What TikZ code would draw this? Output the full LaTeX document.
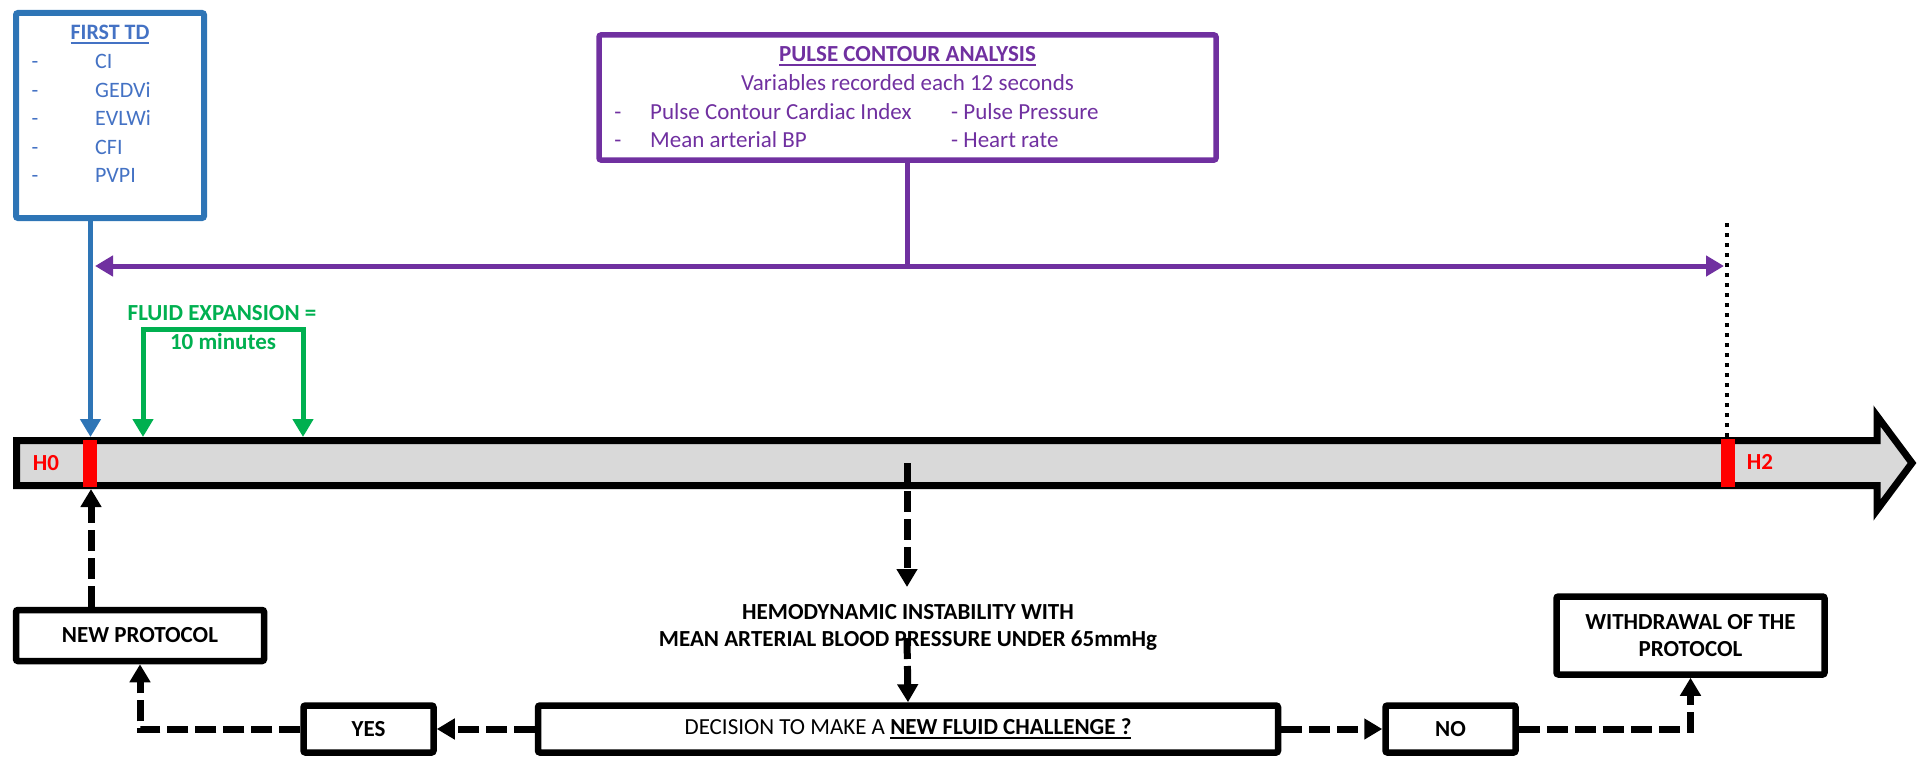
\documentclass[tikz,border=0pt]{standalone}
\usepackage{fontspec}
\setmainfont{Carlito}
\usetikzlibrary{arrows.meta}
\definecolor{tdblue}{HTML}{2E75B6}
\definecolor{tdtext}{HTML}{4472C4}
\definecolor{pcpurple}{HTML}{7030A0}
\definecolor{fegreen}{HTML}{00B050}
\definecolor{bargray}{HTML}{D9D9D9}
\definecolor{mkred}{HTML}{FF0000}
\newsavebox\ulbox
\newcommand{\myul}[1]{\sbox\ulbox{#1}\rlap{\rule[-4pt]{\wd\ulbox}{1.6pt}}\usebox\ulbox}
\begin{document}
\begin{tikzpicture}[x=1pt,y=-1pt,
  bx/.style={draw=black, line width=6.5pt, rounded corners=2pt, fill=white, inner sep=0pt, align=center, font=\fontsize{23}{27}\selectfont\bfseries},
  dline/.style={line width=7pt, dash pattern=on 21pt off 7pt, -{Triangle[width=20pt,length=18pt]}},
  tiptri/.tip={Triangle[width=20pt,length=18pt]},
  lbl/.style={inner sep=0pt, font=\fontsize{23}{27}\selectfont},
  tdl/.style={inner sep=0pt, text=tdtext, font=\fontsize{22}{26}\selectfont},
  pcl/.style={inner sep=0pt, text=pcpurple, font=\fontsize{23}{27}\selectfont},
  grl/.style={inner sep=0pt, text=fegreen, font=\fontsize{23}{27}\selectfont\bfseries},
  hl/.style={inner sep=0pt, text=mkred, font=\fontsize{23}{27}\selectfont\bfseries}]
\useasboundingbox (0,0) rectangle (1919,760);

% timeline bar
\draw[line width=7pt, fill=bargray] (16.5,440.5) -- (1877,440.5) -- (1877,416) -- (1912,463) -- (1877,510) -- (1877,485.5) -- (16.5,485.5) -- cycle;
\node[fill=mkred, minimum width=14pt, minimum height=47pt, inner sep=0pt] (m0) at (90,463.5) {};
\node[fill=mkred, minimum width=14pt, minimum height=48pt, inner sep=0pt] (m2) at (1728,463) {};
\node[hl, anchor=base] (h0) at (46,470) {H0};
\node[hl, anchor=base] (h2) at (1760,469) {H2};

\coordinate (h0top) at (90.5,437);
\coordinate (h0bot) at (91,489);
\coordinate (dtop) at (1727,223);
\coordinate (dbot) at (1727,437);
\coordinate (pl) at (95,266);
\coordinate (pr) at (1724,266);
\coordinate (g1) at (143,437);
\coordinate (g2) at (303,437);
\coordinate (ga) at (143,329);
\coordinate (gb) at (303,329);
\coordinate (mid) at (907,463);
\coordinate (hemotip) at (907,587);
\coordinate (hemostart) at (907,638);

% FIRST TD box
\node[draw=tdblue, line width=6pt, rounded corners=2pt, minimum width=188pt, minimum height=205pt, inner sep=0pt] (ftd) at (110,115.5) {};
\node[tdl, anchor=base, font=\fontsize{22}{26}\selectfont\bfseries] (ftdt) at (110,40) {\myul{FIRST TD}};
\node[tdl, anchor=base] (d1) at (35,69) {-};
\node[tdl, anchor=base] (d2) at (35,97) {-};
\node[tdl, anchor=base] (d3) at (35,125) {-};
\node[tdl, anchor=base] (d4) at (35,154) {-};
\node[tdl, anchor=base] (d5) at (35,182) {-};
\node[tdl, anchor=base west] (i1) at (95,69) {CI};
\node[tdl, anchor=base west] (i2) at (95,97) {GEDVi};
\node[tdl, anchor=base west] (i3) at (95,125) {EVLWi};
\node[tdl, anchor=base west] (i4) at (95,154) {CFI};
\node[tdl, anchor=base west] (i5) at (95,182) {PVPI};
\draw[tdblue, line width=5pt, -{tiptri}] (ftd.south -| h0top) -- (h0top);

% PULSE CONTOUR box
\node[draw=pcpurple, line width=5.5pt, rounded corners=2pt, minimum width=617pt, minimum height=125pt, inner sep=0pt] (pca) at (907.5,97.5) {};
\node[pcl, anchor=base, font=\fontsize{23}{27}\selectfont\bfseries] (pcat) at (907.5,62) {\myul{PULSE CONTOUR ANALYSIS}};
\node[pcl, anchor=base] (pcav) at (907.5,90) {Variables recorded each 12 seconds};
\node[pcl, anchor=base] (pd1) at (618,119) {-};
\node[pcl, anchor=base] (pd2) at (618,147) {-};
\node[pcl, anchor=base west] (p1) at (650,119) {Pulse Contour Cardiac Index};
\node[pcl, anchor=base west] (p2) at (650,147) {Mean arterial BP};
\node[pcl, anchor=base west] (p3) at (951,119) {- Pulse Pressure};
\node[pcl, anchor=base west] (p4) at (951,147) {- Heart rate};
\draw[pcpurple, line width=5pt] (pca.south) -- (pca.south |- pl);
\draw[pcpurple, line width=5pt, {tiptri}-{tiptri}] (pl) -- (pr);

% dotted line to H2
\draw[line width=4pt, dash pattern=on 4pt off 6pt] (dtop) -- (dbot);

% fluid expansion
\node[grl, anchor=base] (fe1) at (222,320) {FLUID EXPANSION =};
\node[grl, anchor=base] (fe2) at (223,349) {10 minutes};
\draw[fegreen, line width=5pt, {tiptri}-{tiptri}] (g1) -- (ga) -- (gb) -- (g2);

% bottom flow
\node[bx, minimum width=248pt, minimum height=51pt] (newp) at (140,635.5) {NEW PROTOCOL};
\node[bx, minimum width=130pt, minimum height=47pt] (yes) at (368.5,729) {YES};
\node[bx, minimum width=740pt, minimum height=47pt, font=\fontsize{23}{27}\selectfont] (dec) at (908,729) {DECISION TO MAKE A \textbf{\myul{NEW FLUID CHALLENGE ?}}};
\node[bx, minimum width=130pt, minimum height=47pt] (no) at (1450.5,729) {NO};
\node[bx, minimum width=268pt, minimum height=78pt] (wd) at (1690.5,635.5) {WITHDRAWAL OF THE\\PROTOCOL};

\node[lbl, anchor=base, font=\fontsize{23}{27}\selectfont\bfseries] (hemo1) at (908,619) {HEMODYNAMIC INSTABILITY WITH};
\node[lbl, anchor=base, font=\fontsize{23}{27}\selectfont\bfseries] (hemo2) at (908,646) {MEAN ARTERIAL BLOOD PRESSURE UNDER 65mmHg};

\draw[dline] (mid) -- (hemotip);
\draw[dline] (hemostart) -- (dec.north);
\draw[dline] (dec.west) -- (yes.east);
\draw[dline] (yes.west) -| (newp.south);
\draw[dline] (newp.north -| h0bot) -- (h0bot);
\draw[dline] (dec.east) -- (no.west);
\draw[dline] (no.east) -| (wd.south);
\end{tikzpicture}
\end{document}
